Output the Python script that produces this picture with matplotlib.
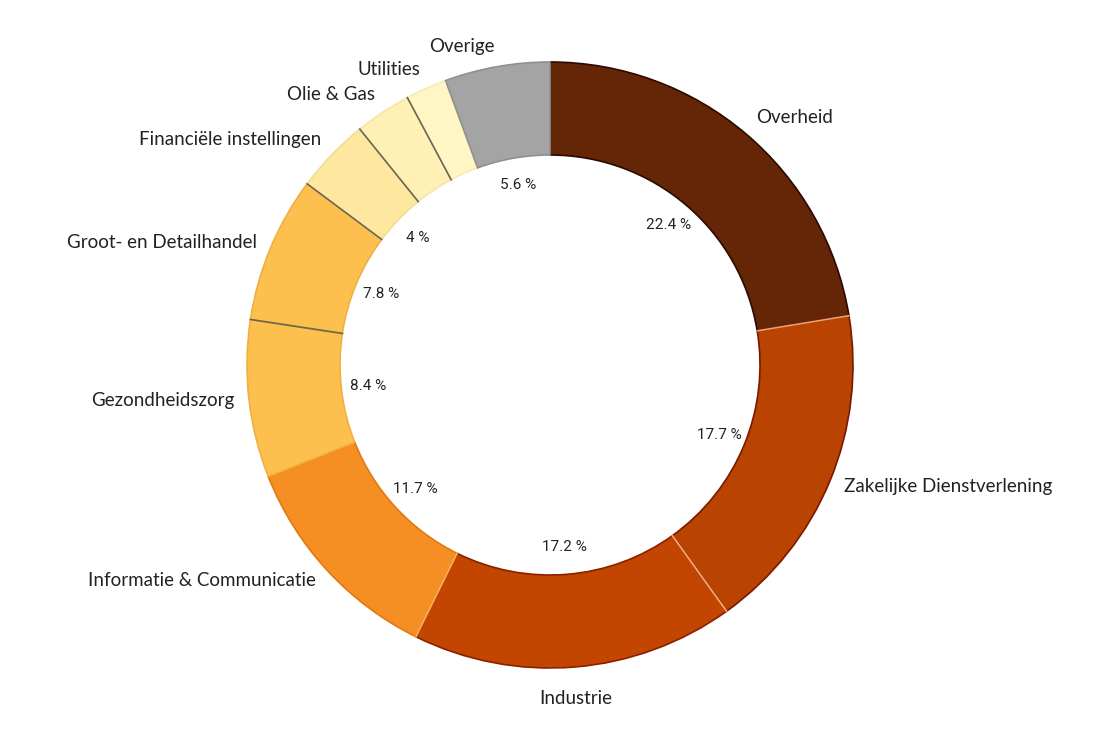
import numpy as np
import matplotlib
matplotlib.use("Agg")
import matplotlib.pyplot as plt

sectors = ["Overheid", "Zakelijke Dienstverlening", "Industrie", "Informatie & Communicatie",
           "Gezondheidszorg", "Groot- en Detailhandel", "Financiële instellingen",
           "Olie & Gas", "Utilities", "Overige"]
shares = [22.4, 17.7, 17.2, 11.7, 8.4, 7.8, 4.0, 3.0, 2.2, 5.6]
show_pct = [True, True, True, True, True, True, True, False, False, True]
pct_text = ["22.4 %", "17.7 %", "17.2 %", "11.7 %", "8.4 %", "7.8 %", "4 %", "", "", "5.6 %"]

colors = ["#652507", "#b94300", "#c24500", "#f58f23", "#fdc04e", "#fdc04e",
          "#fee8a0", "#fff0b5", "#fff5c5", "#a4a4a4"]
edges = ["#2a0900", "#7a1800", "#8a2000", "#e07a10", "#f0b040", "#f0b040",
         "#f5dc90", "#f5e6a8", "#f5ecb8", "#909090"]

W, H = 1110, 735
fig = plt.figure(figsize=(W / 100, H / 100), dpi=100)
ax = fig.add_axes([0, 0, 1, 1])
cx, cy = 550, 365
R = 303
width = 93

wedges, _ = ax.pie(shares, colors=colors, startangle=90, counterclock=False,
                   radius=R, wedgeprops=dict(width=width, linewidth=1.2),
                   normalize=True)
for w, e in zip(wedges, edges):
    w.set_edgecolor(e)

ax.set_aspect("equal")
ax.axis("off")

# separator lines between some slices
total = sum(shares)
cum = np.cumsum([0] + shares)
sep_colors = {5: "#6b6650", 6: "#6b6650", 7: "#6b6650", 8: "#6b6650",
              2: "#f5b080", 3: "#f8b060", 1: "#f0a070"}
for i, c in sep_colors.items():
    ang = np.deg2rad(90 - 360 * cum[i] / total)
    ax.plot([np.cos(ang) * (R - width), np.cos(ang) * R],
            [np.sin(ang) * (R - width), np.sin(ang) * R], color=c, lw=1.2)

lab_font = "Lato"
for i, (name, s) in enumerate(zip(sectors, shares)):
    mid = 90 - 360 * (cum[i] + s / 2) / total
    a = np.deg2rad(mid)
    x, y = np.cos(a), np.sin(a)
    rl = 318
    lx, ly = x * rl, y * rl
    if abs(x) < 0.15:
        ha = "center"
        if y > 0:
            ly += 10
    else:
        ha = "left" if x > 0 else "right"
        if y > 0.5:
            ly += 5
    va = "center"
    if y < -0.95:
        va = "top"
        ly = -R - 22
    ax.text(lx, ly, name, ha=ha, va=va, fontsize=13.5, family=lab_font, color="#222222")
    if show_pct[i]:
        rp = 183
        ax.text(x * rp, y * rp, pct_text[i], ha="center", va="center",
                fontsize=11, family="Roboto", color="#222222")

ax.set_xlim(-cx, W - cx)
ax.set_ylim(-(H - cy), cy)
fig.savefig("out.png", dpi=100, facecolor="white")
